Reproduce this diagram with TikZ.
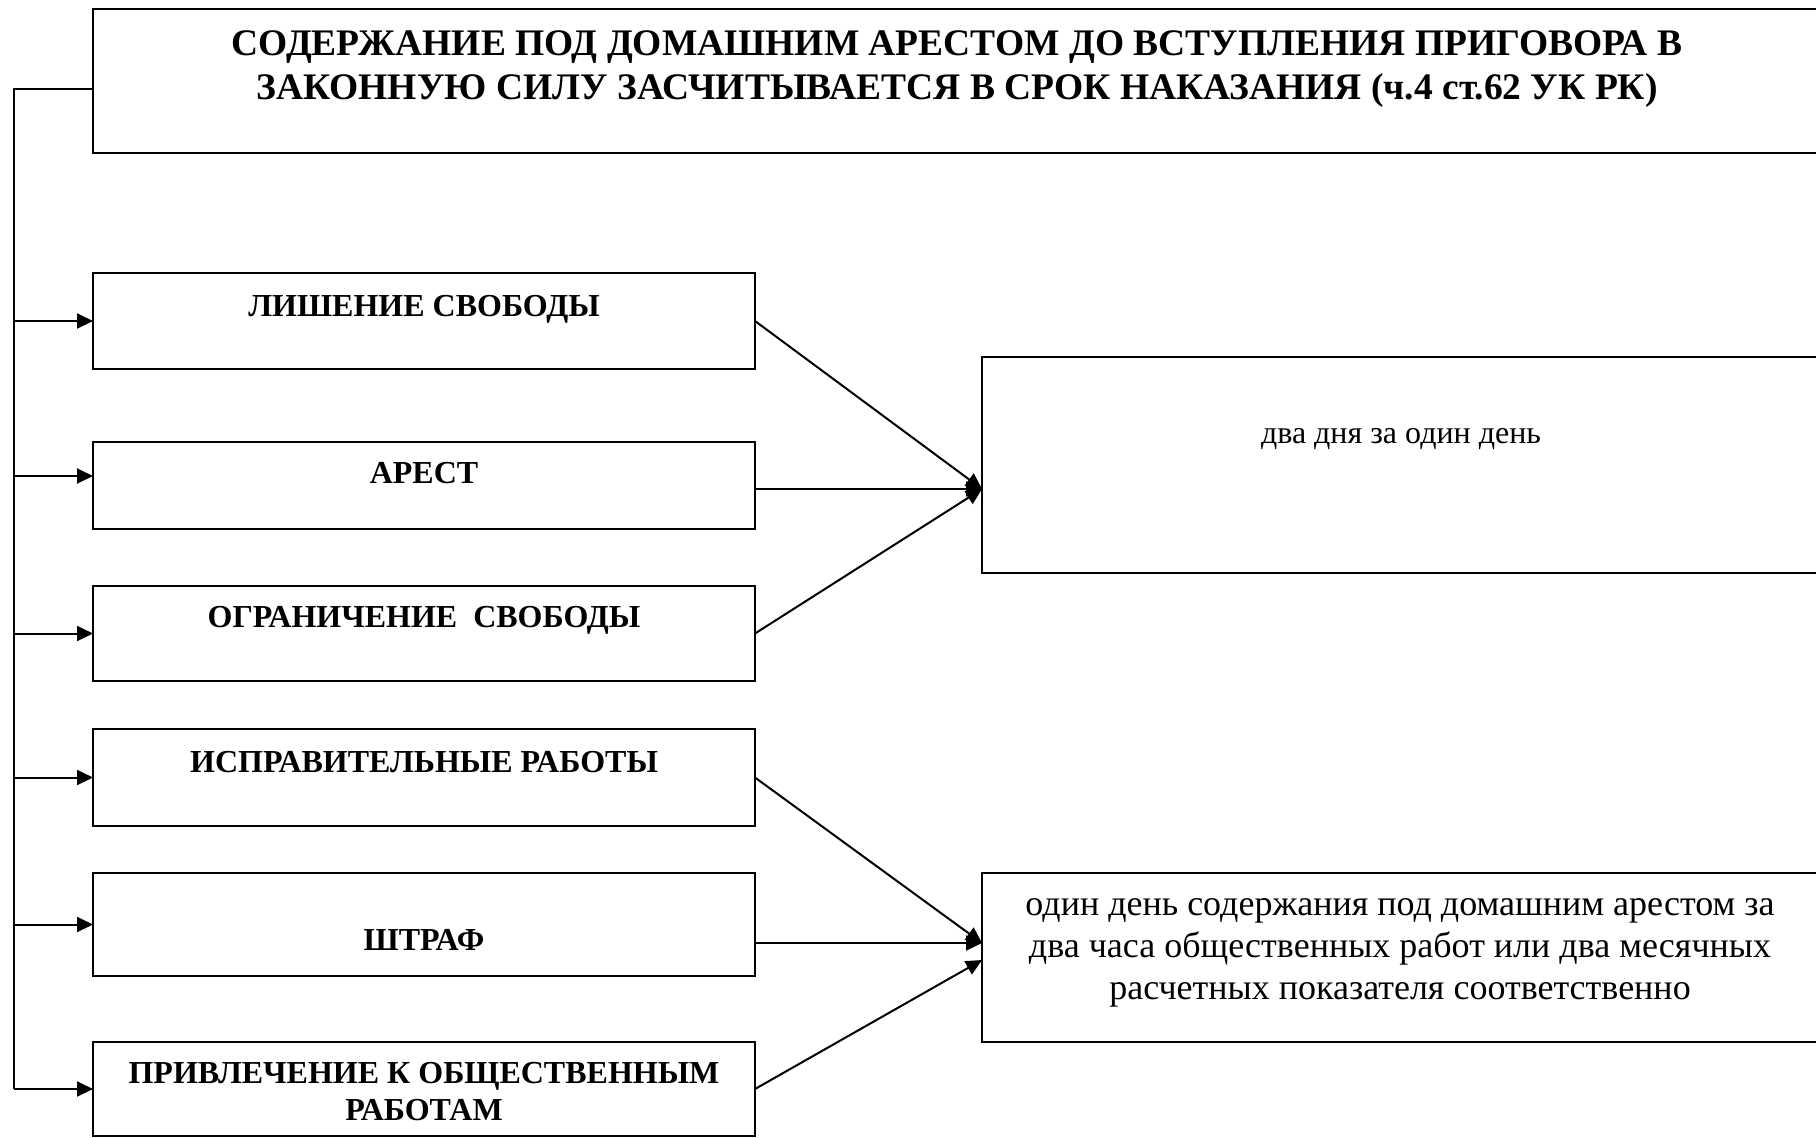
\documentclass[tikz,border=0pt]{standalone}
\usepackage{fontspec}
\setmainfont{Liberation Serif}
\usetikzlibrary{arrows.meta}
\begin{document}
\begin{tikzpicture}[x=0.5pt,y=-0.5pt,
  box/.style={draw=black, line width=1pt, inner sep=0pt, outer sep=0pt},
  arr/.style={line width=1pt, -{Triangle[length=8pt,width=7.5pt]}},
  conn/.style={line width=1pt},
  ttl/.style={anchor=base, inner sep=0pt, font=\fontsize{18.75pt}{22pt}\selectfont\bfseries},
  lbl/.style={anchor=base, inner sep=0pt, font=\fontsize{16pt}{18.5pt}\selectfont\bfseries},
  txt/.style={anchor=base, inner sep=0pt, font=\fontsize{18pt}{21pt}\selectfont},
  txts/.style={anchor=base, inner sep=0pt, font=\fontsize{16pt}{19pt}\selectfont}]
\useasboundingbox[fill=white] (0,0) rectangle (1816,1137);

% boxes
\node[box, minimum width=864.5pt, minimum height=72pt] (t) at (957.5,81) {};
\node[box, minimum width=331pt, minimum height=48pt] (b1) at (424,321) {};
\node[box, minimum width=331pt, minimum height=43.5pt] (b2) at (424,485.5) {};
\node[box, minimum width=331pt, minimum height=47.5pt] (b3) at (424,633.5) {};
\node[box, minimum width=331pt, minimum height=48.5pt] (b4) at (424,777.5) {};
\node[box, minimum width=331pt, minimum height=51.5pt] (b5) at (424,924.5) {};
\node[box, minimum width=331pt, minimum height=47pt] (b6) at (424,1089) {};
\node[box, minimum width=420pt, minimum height=108pt] (r1) at (1402,465) {};
\node[box, minimum width=420pt, minimum height=84.5pt] (r2) at (1402,957.5) {};

% texts
\node[ttl] (t1) at (957,55) {СОДЕРЖАНИЕ ПОД ДОМАШНИМ АРЕСТОМ ДО ВСТУПЛЕНИЯ ПРИГОВОРА В};
\node[ttl] (t2) at (957,99) {ЗАКОННУЮ СИЛУ ЗАСЧИТЫВАЕТСЯ В СРОК НАКАЗАНИЯ (ч.4 ст.62 УК РК)};
\node[lbl] (l1) at (424,316) {ЛИШЕНИЕ СВОБОДЫ};
\node[lbl] (l2) at (424,483) {АРЕСТ};
\node[lbl] (l3) at (424,627) {ОГРАНИЧЕНИЕ\ \ СВОБОДЫ};
\node[lbl] (l4) at (424,772) {ИСПРАВИТЕЛЬНЫЕ РАБОТЫ};
\node[lbl] (l5) at (424,950) {ШТРАФ};
\node[lbl] (l6a) at (424,1083) {ПРИВЛЕЧЕНИЕ К ОБЩЕСТВЕННЫМ};
\node[lbl] (l6b) at (424,1120) {РАБОТАМ};
\node[txts] (rt) at (1401,443) {два дня за один день};
\node[txt] (ra) at (1400,915) {один день содержания под домашним арестом за};
\node[txt] (rb) at (1400,957) {два часа общественных работ или два месячных};
\node[txt] (rc) at (1400,999) {расчетных показателя соответственно};

% trunk
\coordinate (trTop) at (13.5,89);
\coordinate (trBot) at (13.5,1089);
\draw[conn] ([yshift=-4pt]t.west) -- (trTop) -- (trBot);
\draw[arr] (trTop |- b1.west) -- (b1.west);
\draw[arr] (13.5,476) -- (b2.west |- 0,476);
\draw[arr] (trTop |- b3.west) -- (b3.west);
\draw[arr] (trTop |- b4.west) -- (b4.west);
\draw[arr] (trTop |- b5.west) -- (b5.west);
\draw[arr] (trBot) -- (b6.west);

% right connectors
\coordinate (p1) at ([yshift=-12pt]r1.west);
\coordinate (p2) at (982,943);
\coordinate (p3) at (982,960);
\draw[arr] (b1.east) -- (p1);
\draw[arr] (b2.east |- p1) -- (p1);
\draw[arr] (b3.east) -- (p1);
\draw[arr] (b4.east) -- (p2);
\draw[arr] (b5.east |- p2) -- (p2);
\draw[arr] (b6.east) -- (p3);
\end{tikzpicture}
\end{document}
